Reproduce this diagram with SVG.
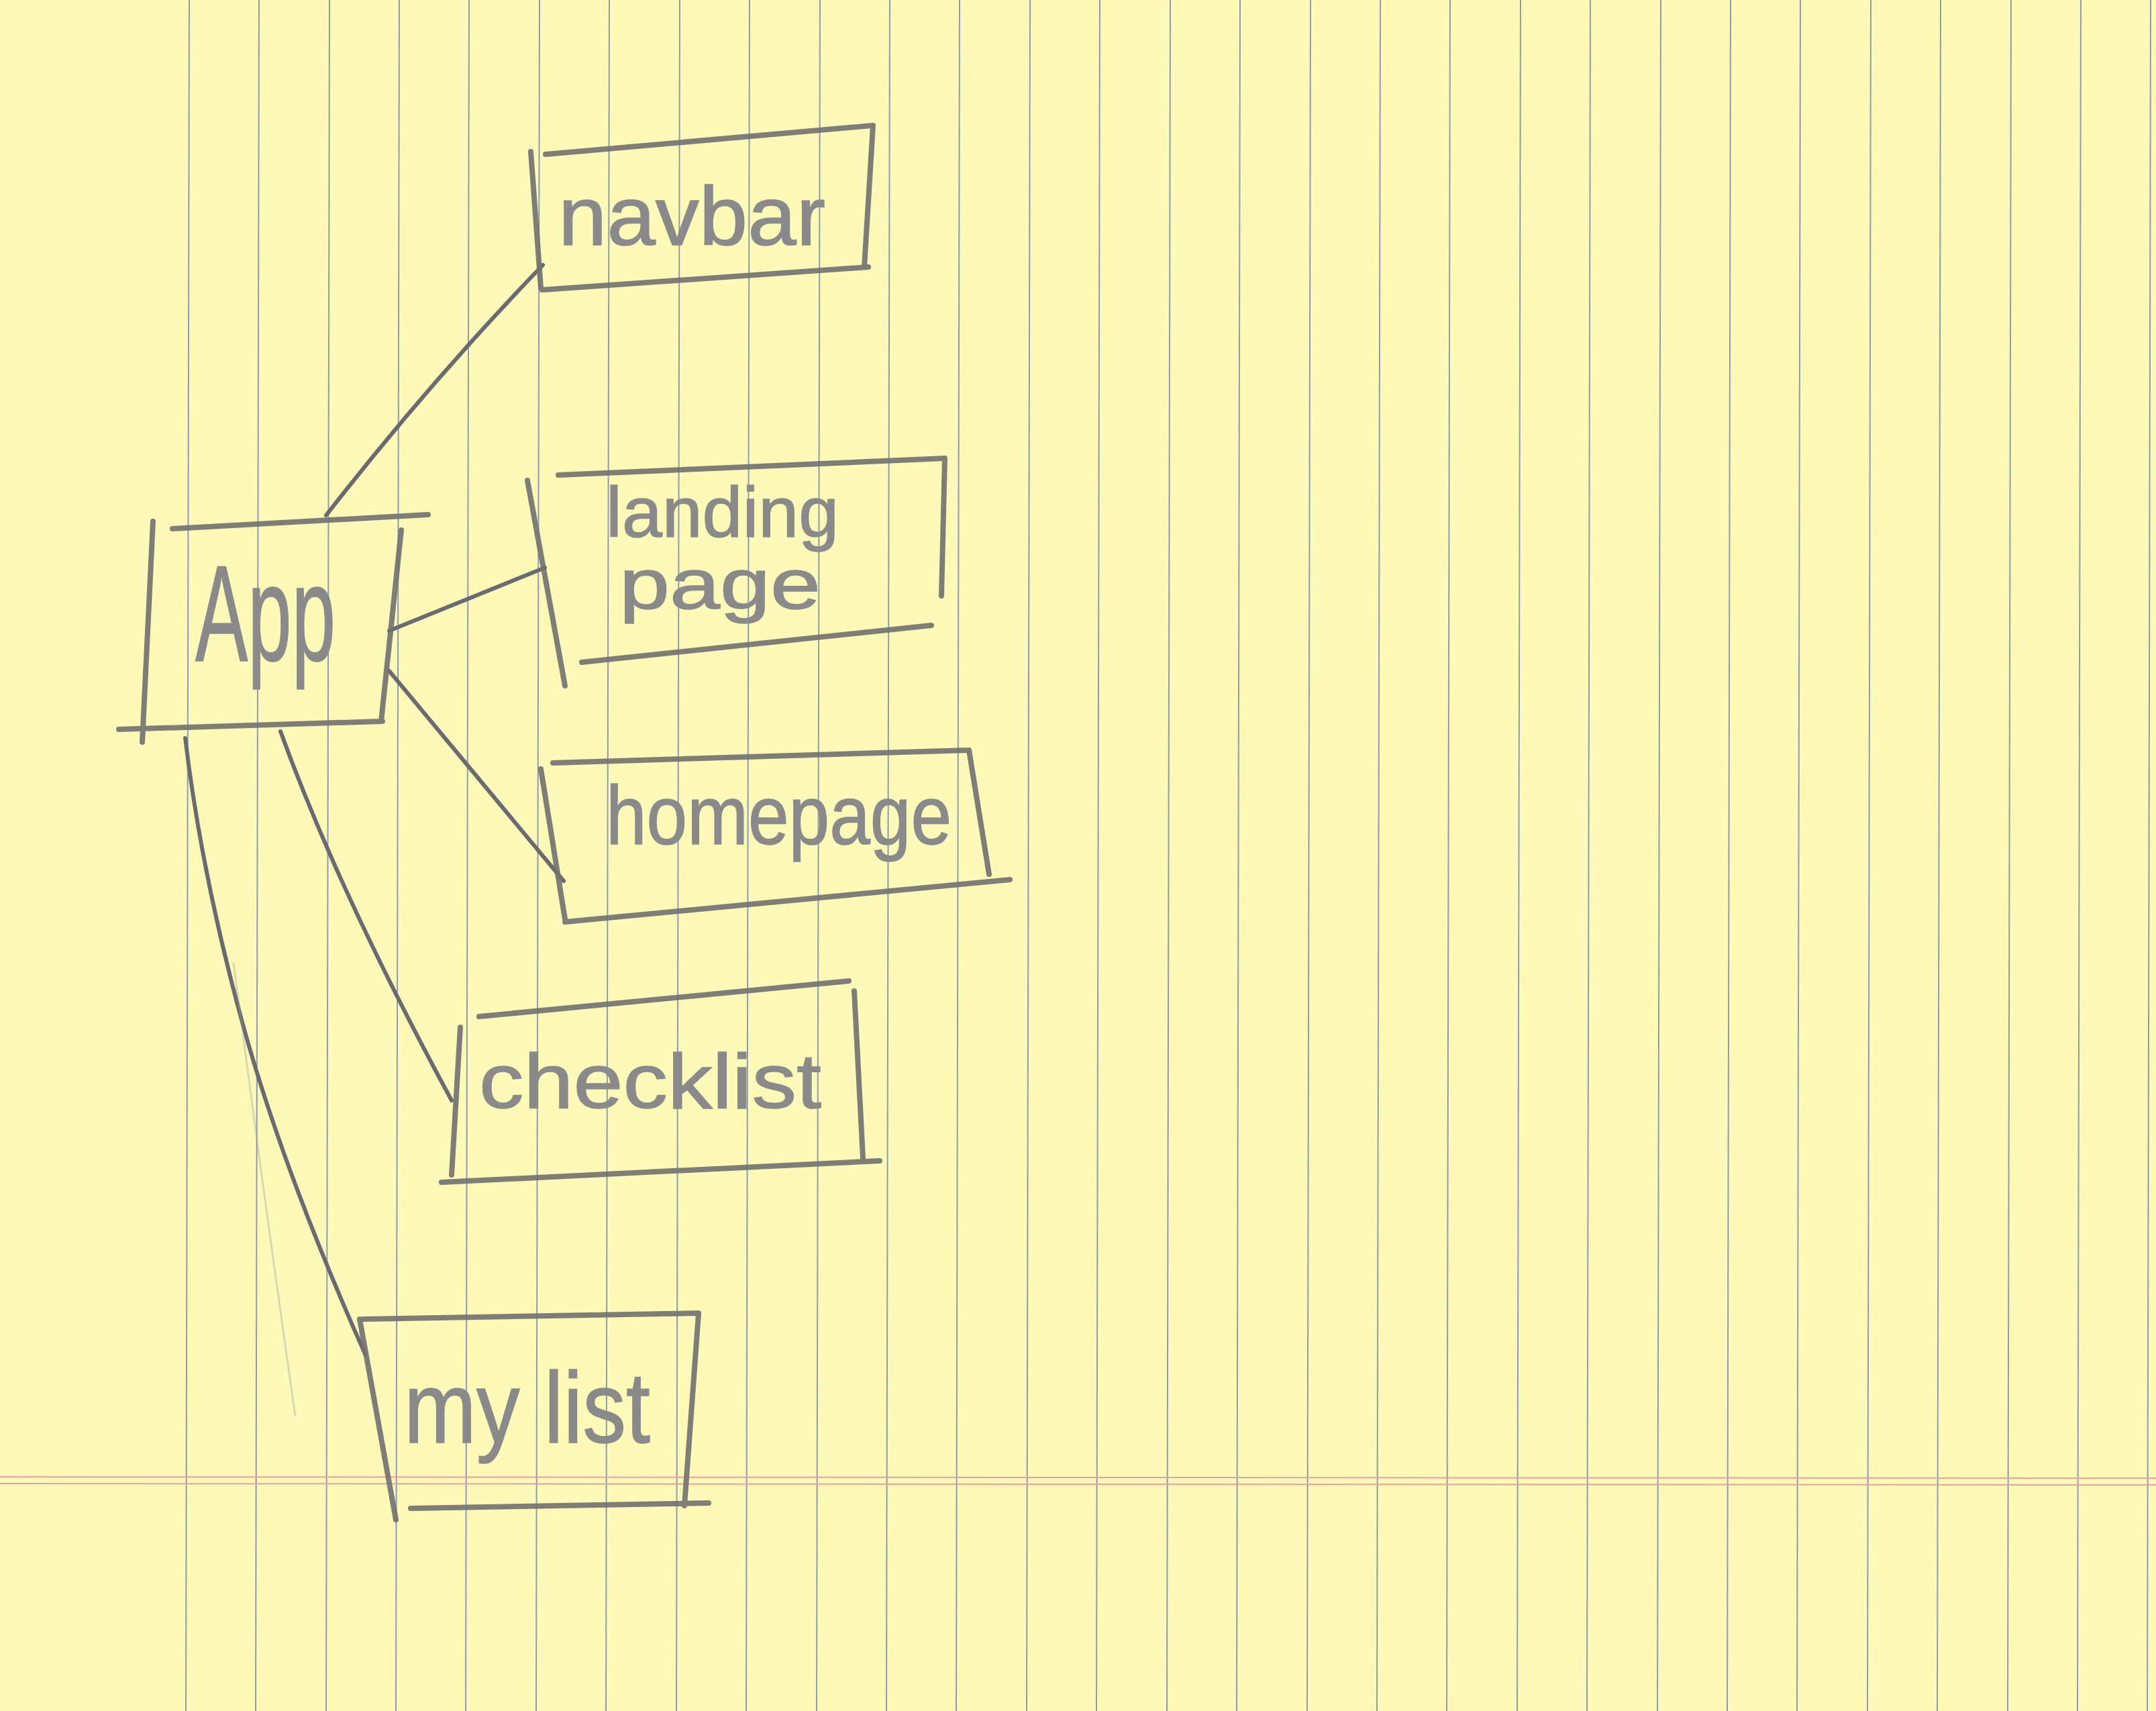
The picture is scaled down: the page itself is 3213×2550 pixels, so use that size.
<svg xmlns="http://www.w3.org/2000/svg" width="3213" height="2550" viewBox="0 0 3213 2550">
<style>
.rule{stroke:#8e9cb3;stroke-width:2;fill:none}
.red{stroke:#eaa0a0;stroke-width:2;fill:none}
.pencil{stroke:#707070;stroke-width:8;fill:none;stroke-linecap:round;stroke-linejoin:round;opacity:0.9}
.conn{stroke:#6a6a70;stroke-width:6;fill:none;stroke-linecap:round}
.lbl{font-family:"Liberation Sans","DejaVu Sans",sans-serif;fill:#8a8a8a;stroke:#8a8a8a;stroke-width:1.5}
</style>
<rect x="0" y="0" width="3213" height="2550" fill="#fcf9b9"/>
<g id="paper-rules">
<path class="rule" d="M282 0L277 2550M386 0L381 2550M491 0L486 2550M595 0L590 2550M699 0L694 2550M804 0L799 2550M908 0L903 2550M1013 0L1008 2550M1117 0L1112 2550M1222 0L1217 2550M1326 0L1321 2550M1430 0L1425 2550M1535 0L1530 2550M1639 0L1634 2550M1744 0L1739 2550M1848 0L1843 2550M1953 0L1948 2550M2057 0L2052 2550M2161 0L2156 2550M2266 0L2261 2550M2370 0L2365 2550M2475 0L2470 2550M2579 0L2574 2550M2683 0L2678 2550M2788 0L2783 2550M2892 0L2887 2550M2997 0L2992 2550M3101 0L3096 2550M3205 0L3200 2550"/>
<path class="red" d="M0 2201L3213 2203M0 2211L3213 2213"/>
</g>
<g id="connectors">
<path class="conn" d="M486 768Q640 570 809 395"/>
<path class="conn" d="M580 940L812 846"/>
<path class="conn" d="M580 1000L840 1313"/>
<path class="conn" d="M418 1090Q505 1330 673 1640"/>
<path class="conn" d="M276 1100Q300 1300 360 1520T545 2020"/>
<path d="M348 1434Q390 1760 440 2110" stroke="#9a9a9a" stroke-width="3" fill="none" opacity="0.35"/>
</g>
<g id="node-app">
<path class="pencil" d="M257 788L638 767M228 777L212 1106M598 790L568 1075M177 1087L570 1075"/>
<text class="lbl" x="291" y="985" font-size="205" textLength="209" lengthAdjust="spacingAndGlyphs">App</text>
</g>
<g id="node-navbar">
<path class="pencil" d="M813 230L1301 187M1301 187L1288 398M1294 398L808 432M791 226L806 429"/>
<text class="lbl" x="832" y="365" font-size="125" textLength="398" lengthAdjust="spacingAndGlyphs">navbar</text>
</g>
<g id="node-landing-page">
<path class="pencil" d="M832 708L1408 683M1408 683L1403 888M867 987L1388 932M786 716L842 1022"/>
<text class="lbl" x="903" y="800" font-size="105" textLength="347" lengthAdjust="spacingAndGlyphs">landing</text>
<text class="lbl" x="923" y="907" font-size="105" textLength="300" lengthAdjust="spacingAndGlyphs">page</text>
</g>
<g id="node-homepage">
<path class="pencil" d="M824 1137L1444 1118M1444 1118L1474 1303M1505 1311L842 1374M806 1146L842 1370"/>
<text class="lbl" x="903" y="1258" font-size="125" textLength="515" lengthAdjust="spacingAndGlyphs">homepage</text>
</g>
<g id="node-checklist">
<path class="pencil" d="M714 1515L1265 1462M1273 1477L1286 1726M1311 1730L658 1762M686 1531L673 1751"/>
<text class="lbl" x="714" y="1651" font-size="115" textLength="510" lengthAdjust="spacingAndGlyphs">checklist</text>
</g>
<g id="node-my-list">
<path class="pencil" d="M541 1966L1041 1957M1041 1958L1020 2244M1056 2240L612 2248M536 1966L590 2265"/>
<text class="lbl" x="602" y="2150" font-size="150" textLength="367" lengthAdjust="spacingAndGlyphs">my list</text>
</g>
</svg>
